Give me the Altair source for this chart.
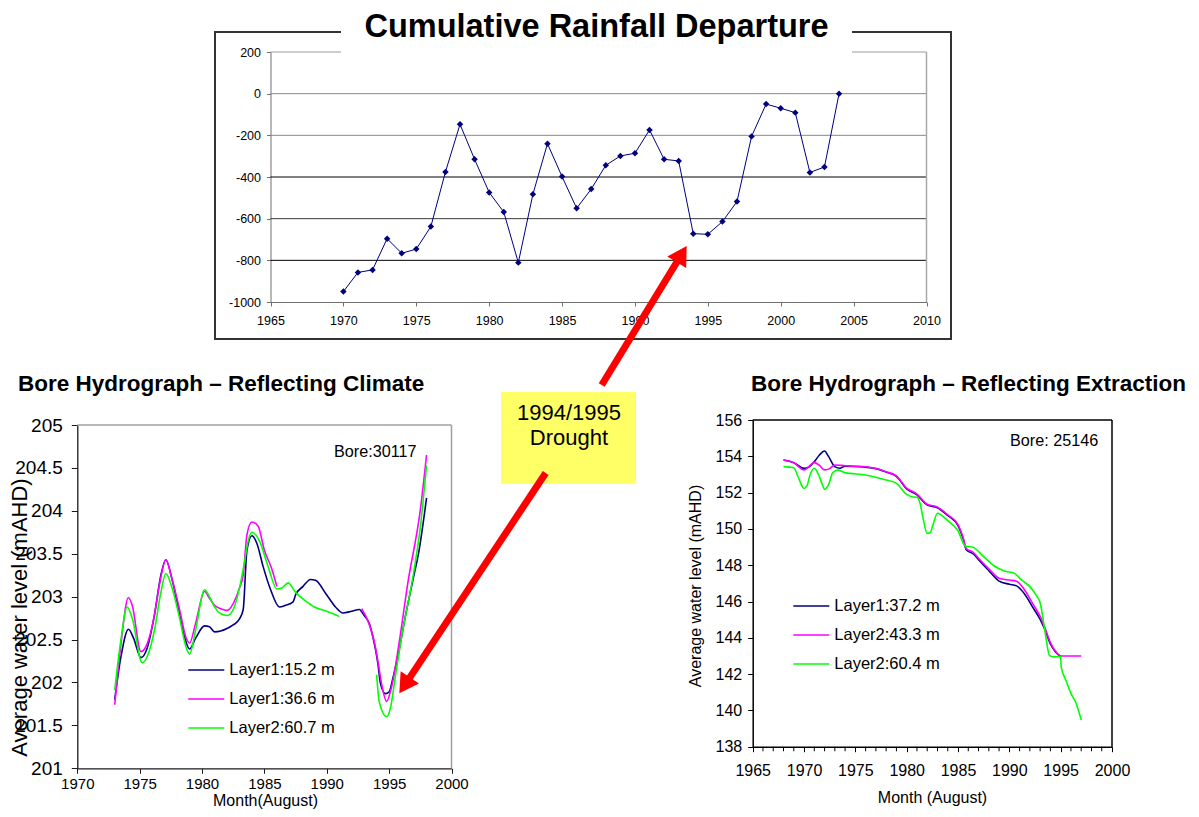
import math
import altair as alt
import pandas as pd

# ------------------------------------------------------------------ data
# Cumulative rainfall departure (top chart)
rain_years = list(range(1970, 2005))
rain_departure = [-950, -858, -846, -696, -766, -746, -638, -376, -147, -315,
                  -474, -568, -811, -483, -240, -398, -550, -458, -344, -299,
                  -286, -174, -315, -323, -672, -675, -614, -518, -205, -50,
                  -70, -91, -378, -352, 0]
rain_xticks = [1965, 1970, 1975, 1980, 1985, 1990, 1995, 2000, 2005, 2010]
rain_yticks = [-1000, -800, -600, -400, -200, 0, 200]
rain_grid_values = [200, 0, -200, -400, -600, -800]
rain_grid_colors = ['#9a9a9a', '#8a8a8a', '#8a8a8a', '#000000', '#3a3a3a', '#000000']

# Bore 30117 (climate)
clim_names = ['Layer1:15.2 m', 'Layer1:36.6 m', 'Layer2:60.7 m']
clim_colors = ['#000080', '#FF00FF', '#00FF00']
clim_xticks = [1970, 1975, 1980, 1985, 1990, 1995, 2000]
clim_yticks = [201, 201.5, 202, 202.5, 203, 203.5, 204, 204.5, 205]

clim_navy_year = [1973.0, 1973.5, 1974.1, 1974.5, 1975.1, 1975.6, 1976.2, 1976.7, 1977.1, 1977.6,
                  1978.2, 1978.7, 1979.0, 1979.5, 1980.2, 1980.6, 1981.0, 1981.5, 1982.0, 1982.5,
                  1983.0, 1983.3, 1983.6, 1984.0, 1984.4, 1984.9, 1985.5, 1986.2, 1986.7, 1987.3,
                  1987.5, 1988.1, 1988.7, 1989.1, 1989.9, 1990.7, 1991.3, 1992.0, 1992.6, 1993.0,
                  1993.4, 1993.7, 1994.1, 1994.3, 1994.7, 1995.0, 1995.3, 1995.8, 1996.3, 1996.9,
                  1997.4, 1998.0]
clim_navy_level = [201.80, 202.30, 202.62, 202.52, 202.29, 202.40, 202.80, 203.25, 203.43, 203.20,
                   202.80, 202.48, 202.39, 202.52, 202.66, 202.65, 202.59, 202.60, 202.63, 202.67,
                   202.74, 202.85, 203.54, 203.71, 203.62, 203.35, 203.08, 202.88, 202.90, 202.94,
                   203.02, 203.12, 203.20, 203.19, 203.04, 202.88, 202.81, 202.83, 202.85, 202.78,
                   202.69, 202.53, 202.22, 201.99, 201.87, 201.89, 202.05, 202.38, 202.77, 203.19,
                   203.54, 204.15]

clim_pink_year_a = [1973.0, 1973.5, 1974.1, 1974.4, 1975.1, 1975.6, 1976.1, 1976.6, 1977.1, 1977.6,
                    1978.2, 1978.7, 1979.0, 1979.5, 1980.2, 1980.6, 1981.0, 1981.5, 1982.0, 1982.5,
                    1983.0, 1983.3, 1983.6, 1984.0, 1984.5, 1985.0, 1985.6, 1986.0]
clim_pink_level_a = [201.74, 202.45, 202.99, 202.90, 202.36, 202.45, 202.72, 203.15, 203.43, 203.20,
                     202.85, 202.53, 202.46, 202.70, 203.06, 202.98, 202.90, 202.86, 202.84, 202.92,
                     203.10, 203.25, 203.72, 203.87, 203.82, 203.54, 203.32, 203.12]
clim_pink_year_b = [1992.8, 1993.4, 1993.8, 1994.1, 1994.4, 1994.8, 1995.2, 1995.8, 1996.5, 1997.5, 1998.0]
clim_pink_level_b = [202.86, 202.68, 202.48, 202.25, 201.98, 201.78, 201.95, 202.46, 203.16, 204.01, 204.65]

clim_green_year_a = [1973.0, 1973.5, 1974.0, 1974.4, 1975.2, 1975.6, 1976.2, 1976.7, 1977.1, 1977.6,
                     1978.2, 1978.7, 1979.0, 1979.5, 1980.2, 1980.6, 1981.0, 1981.5, 1982.0, 1982.5,
                     1983.0, 1983.4, 1983.7, 1984.0, 1984.6, 1985.3, 1986.0, 1986.4, 1986.9, 1987.5,
                     1988.3, 1989.0, 1990.0, 1991.0]
clim_green_level_a = [201.91, 202.50, 202.88, 202.75, 202.23, 202.30, 202.62, 203.05, 203.27, 203.10,
                      202.75, 202.42, 202.33, 202.62, 203.08, 203.00, 202.88, 202.80, 202.78, 202.85,
                      203.10, 203.40, 203.65, 203.75, 203.65, 203.35, 203.09, 203.10, 203.16, 203.05,
                      202.95, 202.88, 202.83, 202.77]
clim_green_year_b = [1994.0, 1994.2, 1994.8, 1995.1, 1995.5, 1996.0, 1997.0, 1997.5, 1998.0]
clim_green_level_b = [202.09, 201.78, 201.60, 201.70, 202.07, 202.53, 203.31, 203.81, 204.53]

# Bore 25146 (extraction)
extr_names = ['Layer1:37.2 m', 'Layer2:43.3 m', 'Layer2:60.4 m']
extr_colors = ['#000080', '#FF00FF', '#00FF00']
extr_xticks = [1965, 1970, 1975, 1980, 1985, 1990, 1995, 2000]
extr_minor_ticks = [1966, 1967, 1968, 1969, 1971, 1972, 1973, 1974, 1976, 1977, 1978, 1979,
                    1981, 1982, 1983, 1984, 1986, 1987, 1988, 1989, 1991, 1992, 1993, 1994,
                    1996, 1997, 1998, 1999]
extr_yticks = [138, 140, 142, 144, 146, 148, 150, 152, 154, 156]

extr_navy_year = [1968.0, 1969.0, 1970.0, 1970.5, 1971.0, 1971.5, 1972.0, 1972.4, 1973.0, 1973.5,
                  1974.0, 1975.0, 1976.0, 1977.0, 1978.0, 1979.0, 1980.0, 1981.0, 1982.0, 1983.0,
                  1984.0, 1985.0, 1985.5, 1985.8, 1986.5, 1987.0, 1988.0, 1989.0, 1990.0, 1990.7,
                  1991.5, 1992.3, 1993.0, 1993.5, 1994.0, 1994.5, 1995.0]
extr_navy_level = [153.80, 153.65, 153.34, 153.42, 153.70, 154.07, 154.29, 153.98, 153.43, 153.34,
                   153.46, 153.44, 153.40, 153.32, 153.13, 152.90, 152.20, 151.87, 151.32, 151.17,
                   150.74, 150.18, 149.46, 148.85, 148.62, 148.30, 147.70, 147.12, 146.95, 146.86,
                   146.40, 145.66, 145.02, 144.40, 143.66, 143.22, 142.96]

extr_pink_year = [1968.0, 1969.0, 1970.0, 1971.0, 1971.5, 1972.0, 1972.5, 1973.0, 1974.0, 1975.0,
                  1976.0, 1977.0, 1978.0, 1979.0, 1980.0, 1981.0, 1982.0, 1983.0, 1984.0, 1985.0,
                  1985.5, 1985.8, 1986.5, 1987.0, 1988.0, 1989.0, 1990.0, 1990.7, 1991.5, 1992.3,
                  1993.0, 1993.5, 1994.0, 1994.5, 1995.0, 1997.0]
extr_pink_level = [153.80, 153.65, 153.25, 153.65, 153.50, 153.25, 153.32, 153.52, 153.48, 153.45,
                   153.42, 153.33, 153.15, 152.92, 152.25, 151.92, 151.36, 151.20, 150.78, 150.24,
                   149.52, 148.92, 148.70, 148.38, 147.80, 147.28, 147.18, 147.12, 146.62, 145.86,
                   145.18, 144.50, 143.74, 143.26, 143.00, 143.00]

extr_green_year = [1968.0, 1969.0, 1969.4, 1970.0, 1970.3, 1970.6, 1971.0, 1971.4, 1971.8, 1972.0,
                   1972.4, 1972.8, 1973.3, 1974.0, 1976.0, 1978.0, 1979.0, 1980.0, 1980.5, 1981.0,
                   1981.3, 1981.6, 1982.0, 1982.3, 1982.6, 1983.0, 1984.0, 1985.0, 1985.7, 1986.5,
                   1987.5, 1988.5, 1989.5, 1990.5, 1991.2, 1992.0, 1992.6, 1993.0, 1993.3, 1993.6,
                   1993.9, 1994.2, 1995.0, 1995.05, 1995.5, 1996.0, 1996.5, 1997.0]
extr_green_level = [153.43, 153.37, 152.90, 152.23, 152.40, 153.00, 153.34, 153.00, 152.42, 152.18,
                    152.45, 153.10, 153.24, 153.10, 152.97, 152.69, 152.51, 151.90, 151.77, 151.74,
                    151.41, 150.58, 149.75, 149.80, 150.30, 150.86, 150.45, 149.90, 149.06, 148.98,
                    148.47, 147.97, 147.68, 147.55, 147.18, 146.82, 146.36, 145.93, 144.98, 143.88,
                    143.03, 142.96, 142.96, 142.40, 141.67, 140.94, 140.39, 139.47]

# ------------------------------------------------------------------ layout
W, H = 1183, 801          # whole canvas (plot area of the outer layer)
M = 8                     # page margin


def px(v):
    """page pixel -> canvas pixel"""
    return v - M


FONT = 'Liberation Sans'

# panel geometry (page pixels)
TOP = dict(x0=270.5, x1=926.5, y0=302, y1=52)
LEFT = dict(x0=77.3, x1=451.5, y0=768.3, y1=425)
RIGHT = dict(x0=752.7, x1=1112, y0=746.7, y1=420)

FRAME = dict(x0=215, y0=32, x1=951, y1=339)
TITLE_BOX = dict(x0=341, y0=16, x1=852, y1=57)
CALLOUT = dict(x0=501, y0=392, x1=636, y1=484)
ARROWS = [((601.7, 385), (686.7, 246)), ((545.7, 473), (399.3, 693.3))]

# ------------------------------------------------------------------ top chart
TX = alt.Scale(domain=[1965, 2010], range=[px(TOP['x0']), px(TOP['x1'])], nice=False, zero=False)
TY = alt.Scale(domain=[-1000, 200], range=[px(TOP['y0']), px(TOP['y1'])], nice=False, zero=False)

top_x_axis = alt.Axis(orient='bottom', offset=px(TOP['y0']) - H, values=rain_xticks, title=None,
                      grid=False, labelFontSize=12.5, labelColor='black', tickSize=4, labelPadding=8,
                      domainColor='#707070', tickColor='#707070', labelFlush=False,
                      labelOverlap=False, format='d')
top_y_axis = alt.Axis(orient='left', offset=-px(TOP['x0']), values=rain_yticks, title=None,
                      grid=False, labelFontSize=12.5, labelColor='black', tickSize=4, labelPadding=6,
                      domainColor='#707070', tickColor='#707070', labelFlush=False,
                      labelOverlap=False, labelExpr="datum.value + ''")

rain_df = pd.DataFrame({'year': rain_years, 'dep': rain_departure})
grid_df = pd.DataFrame({'v': rain_grid_values, 'c': rain_grid_colors})

top_grid = alt.Chart(grid_df).mark_rule(strokeWidth=1).encode(
    y=alt.Y('v:Q', scale=TY, axis=top_y_axis),
    x=alt.X(datum=1965, scale=TX, axis=top_x_axis),
    x2=alt.datum(2010),
    stroke=alt.Stroke('c:N', scale=None, legend=None),
)
top_right_edge = alt.Chart(pd.DataFrame({'x': [2010]})).mark_rule(color='#a8a8a8', strokeWidth=1.5).encode(
    x=alt.X('x:Q', scale=TX, axis=top_x_axis),
    y=alt.Y(datum=-1000, scale=TY, axis=top_y_axis),
    y2=alt.datum(200),
)
top_line = alt.Chart(rain_df).mark_line(color='#000080', strokeWidth=1).encode(
    x=alt.X('year:Q', scale=TX, axis=top_x_axis),
    y=alt.Y('dep:Q', scale=TY, axis=top_y_axis),
)
top_pts = alt.Chart(rain_df).mark_point(shape='diamond', filled=True, size=42, color='#000080',
                                        opacity=1).encode(
    x=alt.X('year:Q', scale=TX, axis=top_x_axis),
    y=alt.Y('dep:Q', scale=TY, axis=top_y_axis),
)
top_chart = alt.layer(top_grid, top_right_edge, top_line, top_pts)


# ------------------------------------------------------------------ helpers
def seg_df(xs, ys, name, seg):
    return pd.DataFrame({'year': xs, 'level': ys, 'series': name, 'seg': seg})


def hydro_lines(frames, XS, YS, CS, x_axis, y_axis, legend):
    layers = []
    for df in frames:
        layers.append(
            alt.Chart(df).mark_line(strokeWidth=1.6, interpolate='monotone').encode(
                x=alt.X('year:Q', scale=XS, axis=x_axis),
                y=alt.Y('level:Q', scale=YS, axis=y_axis),
                color=alt.Color('series:N', scale=CS, legend=legend),
                detail='seg:N',
            )
        )
    return layers


# ------------------------------------------------------------------ left chart (climate)
LX = alt.Scale(domain=[1970, 2000], range=[px(LEFT['x0']), px(LEFT['x1'])], nice=False, zero=False)
LY = alt.Scale(domain=[201, 205], range=[px(LEFT['y0']), px(LEFT['y1'])], nice=False, zero=False)
LC = alt.Scale(domain=clim_names, range=clim_colors)

left_x_axis = alt.Axis(orient='bottom', offset=px(LEFT['y0']) - H, values=clim_xticks,
                       title='Month(August)', titleFontSize=16, titleFontWeight='normal',
                       titleColor='black', titleX=px(265), titleY=px(800.8) - px(LEFT['y0']),
                       titleBaseline='middle', titleAlign='center',
                       grid=False, labelFontSize=15, labelColor='black', tickSize=5, labelPadding=3,
                       domainColor='#1a1a1a', tickColor='#1a1a1a', domainWidth=1.3,
                       labelFlush=False, labelOverlap=False, format='d')
left_y_axis = alt.Axis(orient='left', offset=-px(LEFT['x0']), values=clim_yticks,
                       title='Average water level (mAHD)', titleFontSize=22, titleFontWeight='normal',
                       titleColor='black', titleX=px(19.5) - px(LEFT['x0']), titleY=px(617),
                       titleBaseline='middle', titleAlign='center', titleAngle=270,
                       grid=False, labelFontSize=19, labelColor='black', tickSize=6, labelPadding=9,
                       domainColor='#1a1a1a', tickColor='#1a1a1a', domainWidth=1.3,
                       labelFlush=False, labelOverlap=False, labelExpr="datum.value + ''")
left_legend = alt.Legend(orient='none', legendX=px(187.3), legendY=px(670) - 13.5, title=None,
                         symbolType='stroke', symbolSize=1296, symbolStrokeWidth=1.6,
                         labelFontSize=16.5, labelFont=FONT, labelColor='black', clipHeight=27,
                         rowPadding=2, padding=0, labelOffset=4, labelLimit=300)

left_frames = [
    seg_df(clim_navy_year, clim_navy_level, clim_names[0], 'a'),
    pd.concat([seg_df(clim_pink_year_a, clim_pink_level_a, clim_names[1], 'a'),
               seg_df(clim_pink_year_b, clim_pink_level_b, clim_names[1], 'b')]),
    pd.concat([seg_df(clim_green_year_a, clim_green_level_a, clim_names[2], 'a'),
               seg_df(clim_green_year_b, clim_green_level_b, clim_names[2], 'b')]),
]
left_top_edge = alt.Chart(pd.DataFrame({'y': [205]})).mark_rule(color='#a0a0a0', strokeWidth=1.5).encode(
    y=alt.Y('y:Q', scale=LY, axis=left_y_axis), x=alt.X(datum=1970, scale=LX, axis=left_x_axis),
    x2=alt.datum(2000))
left_right_edge = alt.Chart(pd.DataFrame({'x': [2000]})).mark_rule(color='#a0a0a0', strokeWidth=1.5).encode(
    x=alt.X('x:Q', scale=LX, axis=left_x_axis), y=alt.Y(datum=201, scale=LY, axis=left_y_axis),
    y2=alt.datum(205))
left_label = alt.Chart(pd.DataFrame({'x': [1997.2], 'y': [204.68], 't': ['Bore:30117']})).mark_text(
    align='right', baseline='middle', fontSize=16.2, font=FONT, color='black').encode(
    x=alt.X('x:Q', scale=LX, axis=left_x_axis), y=alt.Y('y:Q', scale=LY, axis=left_y_axis), text='t:N')

left_chart = alt.layer(left_top_edge, left_right_edge,
                       *hydro_lines(left_frames, LX, LY, LC, left_x_axis, left_y_axis, left_legend),
                       left_label)

# ------------------------------------------------------------------ right chart (extraction)
RX = alt.Scale(domain=[1965, 2000], range=[px(RIGHT['x0']), px(RIGHT['x1'])], nice=False, zero=False)
RY = alt.Scale(domain=[138, 156], range=[px(RIGHT['y0']), px(RIGHT['y1'])], nice=False, zero=False)
RC = alt.Scale(domain=extr_names, range=extr_colors)

right_x_axis = alt.Axis(orient='bottom', offset=px(RIGHT['y0']) - H, values=extr_xticks,
                        title='Month (August)', titleFontSize=16, titleFontWeight='normal',
                        titleColor='black', titleX=px(932), titleY=px(797) - px(RIGHT['y0']),
                        titleBaseline='middle', titleAlign='center',
                        grid=False, labelFontSize=16, labelColor='black', tickSize=5, labelPadding=11,
                        domainColor='black', tickColor='black', domainWidth=1.5,
                        labelFlush=False, labelOverlap=False, format='d')
right_y_axis = alt.Axis(orient='left', offset=-px(RIGHT['x0']), values=extr_yticks,
                        title='Average water level (mAHD)', titleFontSize=16, titleFontWeight='normal',
                        titleColor='black', titleX=px(695) - px(RIGHT['x0']), titleY=px(585.5),
                        titleBaseline='middle', titleAlign='center', titleAngle=270,
                        grid=False, labelFontSize=16, labelColor='black', tickSize=5, labelPadding=6,
                        domainColor='black', tickColor='black', domainWidth=1.5,
                        labelFlush=False, labelOverlap=False)
right_legend = alt.Legend(orient='none', legendX=px(792.3), legendY=px(606) - 13.25, title=None,
                          symbolType='stroke', symbolSize=1296, symbolStrokeWidth=1.6,
                          labelFontSize=16.5, labelFont=FONT, labelColor='black', clipHeight=26.5,
                          rowPadding=2, padding=0, labelOffset=4, labelLimit=300)

right_frames = [
    seg_df(extr_navy_year, extr_navy_level, extr_names[0], 'a'),
    seg_df(extr_pink_year, extr_pink_level, extr_names[1], 'a'),
    seg_df(extr_green_year, extr_green_level, extr_names[2], 'a'),
]
right_top_edge = alt.Chart(pd.DataFrame({'y': [156]})).mark_rule(color='black', strokeWidth=1.5).encode(
    y=alt.Y('y:Q', scale=RY, axis=right_y_axis), x=alt.X(datum=1965, scale=RX, axis=right_x_axis),
    x2=alt.datum(2000))
right_right_edge = alt.Chart(pd.DataFrame({'x': [2000]})).mark_rule(color='black', strokeWidth=1.5).encode(
    x=alt.X('x:Q', scale=RX, axis=right_x_axis), y=alt.Y(datum=138, scale=RY, axis=right_y_axis),
    y2=alt.datum(156))
right_minor = alt.Chart(pd.DataFrame({'x': extr_minor_ticks})).mark_tick(
    orient='vertical', size=4, thickness=1, yOffset=2.5, color='black', opacity=1).encode(
    x=alt.X('x:Q', scale=RX, axis=right_x_axis), y=alt.Y(datum=138, scale=RY, axis=right_y_axis))
right_label = alt.Chart(pd.DataFrame({'x': [1998.65], 'y': [154.86], 't': ['Bore: 25146']})).mark_text(
    align='right', baseline='middle', fontSize=16.2, font=FONT, color='black').encode(
    x=alt.X('x:Q', scale=RX, axis=right_x_axis), y=alt.Y('y:Q', scale=RY, axis=right_y_axis),
    text='t:N')

right_chart = alt.layer(right_top_edge, right_right_edge, right_minor,
                        *hydro_lines(right_frames, RX, RY, RC, right_x_axis, right_y_axis, right_legend),
                        right_label)

# ------------------------------------------------------------------ annotations (canvas pixels)
PX = alt.Scale(domain=[0, W], range=[0, W], nice=False, zero=False)
PY = alt.Scale(domain=[0, H], range=[0, H], nice=False, zero=False)


def box_df(b):
    return pd.DataFrame({'x0': [px(b['x0'])], 'x1': [px(b['x1'])], 'y0': [px(b['y0'])], 'y1': [px(b['y1'])]})


def rect_layer(b, **mk):
    return alt.Chart(box_df(b)).mark_rect(**mk).encode(
        x=alt.X('x0:Q', scale=PX, axis=None), x2='x1:Q',
        y=alt.Y('y0:Q', scale=PY, axis=None), y2='y1:Q')


def text_layer(rows, **mk):
    df = pd.DataFrame({'x': [px(r[0]) for r in rows], 'y': [px(r[1]) for r in rows],
                       't': [r[2] for r in rows]})
    return alt.Chart(df).mark_text(font=FONT, color='black', baseline='middle', **mk).encode(
        x=alt.X('x:Q', scale=PX, axis=None), y=alt.Y('y:Q', scale=PY, axis=None), text='t:N')


frame = rect_layer(FRAME, fill=None, fillOpacity=0, stroke='#333333', strokeWidth=2)
title_box = rect_layer(TITLE_BOX, fill='white', stroke=None)
callout = rect_layer(CALLOUT, fill='#FFFF66', stroke=None)

title_txt = text_layer([(596.5, 26.5, 'Cumulative Rainfall Departure')], fontSize=32.5,
                       fontWeight='bold', align='center')
sub_txt = text_layer([(18, 384, 'Bore Hydrograph \u2013 Reflecting Climate'),
                      (751, 384, 'Bore Hydrograph \u2013 Reflecting Extraction')],
                     fontSize=22.5, fontWeight='bold', align='left')
callout_txt = text_layer([(569, 413, '1994/1995'), (569, 438, 'Drought')], fontSize=22,
                         align='center')

HEAD_W = 22.0
HEAD_H = HEAD_W * math.sqrt(3) / 2
shaft_rows, head_rows = [], []
for (tx, ty), (hx, hy) in ARROWS:
    dx, dy = hx - tx, hy - ty
    L = math.hypot(dx, dy)
    ux, uy = dx / L, dy / L
    shaft_rows.append({'x': px(tx), 'y': px(ty),
                       'x2': px(hx - ux * (HEAD_H - 2)), 'y2': px(hy - uy * (HEAD_H - 2))})
    ang = math.degrees(math.atan2(ux, -uy)) % 360
    head_rows.append({'x': px(hx - ux * HEAD_H / 2), 'y': px(hy - uy * HEAD_H / 2), 'a': ang})

shafts = alt.Chart(pd.DataFrame(shaft_rows)).mark_rule(color='#FF0000', strokeWidth=7,
                                                       strokeCap='butt').encode(
    x=alt.X('x:Q', scale=PX, axis=None), y=alt.Y('y:Q', scale=PY, axis=None), x2='x2:Q', y2='y2:Q')
heads = alt.Chart(pd.DataFrame(head_rows)).mark_point(shape='triangle-up', filled=True,
                                                      size=HEAD_W ** 2, color='#FF0000',
                                                      opacity=1, strokeWidth=0).encode(
    x=alt.X('x:Q', scale=PX, axis=None), y=alt.Y('y:Q', scale=PY, axis=None),
    angle=alt.Angle('a:Q', scale=None))

annot = alt.layer(frame, title_box, title_txt, sub_txt, callout, callout_txt, shafts, heads)

# ------------------------------------------------------------------ compose
chart = alt.layer(top_chart, left_chart, right_chart, annot).resolve_scale(
    x='independent', y='independent', color='independent'
).properties(
    width=W, height=H, autosize=alt.AutoSizeParams(type='none'), padding=0, background='white'
).configure(font=FONT).configure_view(strokeWidth=0)

chart.save('out.html', embed_options={'renderer': 'svg', 'actions': False})
